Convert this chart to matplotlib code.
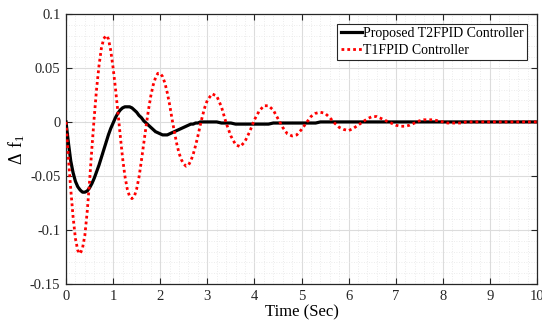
import numpy as np
import matplotlib
matplotlib.use('Agg')
import matplotlib.pyplot as plt
from matplotlib.ticker import MultipleLocator

plt.rcParams['font.family'] = ['Liberation Serif', 'DejaVu Serif']
plt.rcParams['mathtext.fontset'] = 'custom'
plt.rcParams['mathtext.rm'] = 'Liberation Serif'

# values: every 0.05 s up to 3 s, every 0.1 s up to 8.5 s, then flat
t = [0.00, 0.05, 0.10, 0.15, 0.20, 0.25, 0.30, 0.35, 0.40, 0.45,
     0.50, 0.55, 0.60, 0.65, 0.70, 0.75, 0.80, 0.85, 0.90, 0.95,
     1.00, 1.05, 1.10, 1.15, 1.20, 1.25, 1.30, 1.35, 1.40, 1.45,
     1.50, 1.55, 1.60, 1.65, 1.70, 1.75, 1.80, 1.85, 1.90, 1.95,
     2.00, 2.05, 2.10, 2.15, 2.20, 2.25, 2.30, 2.35, 2.40, 2.45,
     2.50, 2.55, 2.60, 2.65, 2.70, 2.75, 2.80, 2.85, 2.90, 2.95,
     3.0, 3.1, 3.2, 3.3, 3.4, 3.5, 3.6, 3.7, 3.8, 3.9,
     4.0, 4.1, 4.2, 4.3, 4.4, 4.5, 4.6, 4.7, 4.8, 4.9,
     5.0, 5.1, 5.2, 5.3, 5.4, 5.5, 5.6, 5.7, 5.8, 5.9,
     6.0, 6.1, 6.2, 6.3, 6.4, 6.5, 6.6, 6.7, 6.8, 6.9,
     7.0, 7.1, 7.2, 7.3, 7.4, 7.5, 7.6, 7.7, 7.8, 7.9,
     8.0, 8.1, 8.2, 8.3, 8.4, 8.5, 9.0, 9.5, 10.0]

t2fpid = [0.000, -0.019, -0.036, -0.047, -0.055, -0.060, -0.063, -0.065, -0.065, -0.064,
          -0.061, -0.057, -0.052, -0.046, -0.040, -0.033, -0.026, -0.019, -0.012, -0.006,
          -0.001, 0.004, 0.008, 0.011, 0.013, 0.014, 0.014, 0.014, 0.013, 0.011,
          0.009, 0.006, 0.004, 0.001, -0.001, -0.003, -0.005, -0.007, -0.009, -0.010,
          -0.011, -0.012, -0.012, -0.012, -0.011, -0.010, -0.009, -0.008, -0.007, -0.006,
          -0.005, -0.004, -0.003, -0.002, -0.002, -0.001, -0.001, 0.000, 0.000, 0.000,
          0.000, 0.000, 0.000, -0.001, -0.001, -0.001, -0.002, -0.002, -0.002, -0.002,
          -0.002, -0.002, -0.002, -0.002, -0.001, -0.001, -0.001, -0.001, -0.001, -0.001,
          -0.001, -0.001, -0.001, -0.001, 0.000, 0.000, 0.000, 0.000, 0.000, 0.000,
          0.000, 0.000, 0.000, 0.000, 0.000, 0.000, 0.000, 0.000, 0.000, 0.000,
          0.000, 0.000, 0.000, 0.000, 0.000, 0.000, 0.000, 0.000, 0.000, 0.000,
          0.000, 0.000, 0.000, 0.000, 0.000, 0.000, 0.000, 0.000, 0.000]

t1fpid = [0.000, -0.033, -0.062, -0.088, -0.108, -0.119, -0.122, -0.117, -0.105, -0.083,
          -0.055, -0.024, 0.005, 0.031, 0.052, 0.068, 0.077, 0.080, 0.077, 0.066,
          0.050, 0.031, 0.010, -0.012, -0.033, -0.050, -0.062, -0.069, -0.071, -0.069,
          -0.062, -0.051, -0.036, -0.020, -0.004, 0.011, 0.024, 0.034, 0.041, 0.045,
          0.045, 0.042, 0.036, 0.027, 0.016, 0.003, -0.009, -0.020, -0.029, -0.035,
          -0.039, -0.041, -0.040, -0.036, -0.030, -0.022, -0.013, -0.003, 0.006, 0.014,
          0.020, 0.026, 0.024, 0.014, -0.001, -0.013, -0.021, -0.023, -0.018, -0.009,
          0.002, 0.010, 0.015, 0.015, 0.011, 0.003, -0.005, -0.011, -0.013, -0.012,
          -0.007, -0.001, 0.005, 0.008, 0.009, 0.008, 0.004, -0.001, -0.005, -0.007,
          -0.008, -0.006, -0.003, 0.000, 0.003, 0.005, 0.005, 0.003, 0.001, -0.001,
          -0.003, -0.004, -0.004, -0.003, -0.001, 0.001, 0.002, 0.002, 0.002, 0.001,
          0.000, -0.001, -0.001, -0.001, -0.001, 0.000, 0.000, 0.000, 0.000]

yticks = [-0.15, -0.1, -0.05, 0, 0.05, 0.1]
yticklabels = ['-0.15', '-0.1', '-0.05', '0', '0.05', '0.1']

fig = plt.figure(figsize=(5.42, 3.25), dpi=100)
ax = fig.add_axes([0.1218, 0.1262, 0.869, 0.831])

ax.plot(t, t2fpid, color='black', lw=2.3, label='Proposed T2FPID Controller', zorder=3)
ax.plot(t, t1fpid, color='red', lw=2.0, dashes=(1, 1.1), label='T1FPID Controller', zorder=4)

ax.set_xlim(0, 10)
ax.set_ylim(-0.15, 0.1)
ax.xaxis.set_major_locator(MultipleLocator(1))
ax.xaxis.set_minor_locator(MultipleLocator(0.2))
ax.set_yticks(yticks)
ax.set_yticklabels(yticklabels)
ax.yaxis.set_minor_locator(MultipleLocator(0.01))

ax.grid(which='major', color='#dcdcdc', lw=0.8)
ax.grid(which='minor', color='#e6e6e6', lw=0.6, ls=(0, (1, 2)))
ax.set_axisbelow(True)
ax.tick_params(which='major', direction='in', top=True, right=True, length=4, width=0.8,
               labelsize=10.5, colors='#262626', pad=4)
ax.tick_params(which='minor', length=0)
for s in ax.spines.values():
    s.set_linewidth(0.9)
    s.set_color('#262626')

ax.set_xlabel('Time (Sec)', fontsize=12, labelpad=1)
ax.set_ylabel(r'$\mathrm{\Delta\ f_1}$', fontsize=13, labelpad=2)

leg = ax.legend(loc='upper right', fontsize=10, fancybox=False, framealpha=1,
                edgecolor='#262626', handlelength=1.5, handletextpad=0.1,
                borderpad=0.25, labelspacing=0.25, borderaxespad=0.7)
leg.get_frame().set_linewidth(0.8)

fig.savefig('out.png', dpi=100)
